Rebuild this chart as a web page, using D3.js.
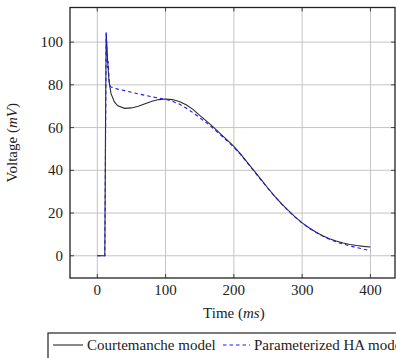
<!DOCTYPE html>
<html>
<head>
<meta charset="utf-8">
<script src="https://cdn.jsdelivr.net/npm/d3@7"></script>
<style>
  html, body { margin: 0; padding: 0; background: #fff; overflow: hidden; }
  svg { display: block; }
  text { font-family: "Liberation Serif", "Times New Roman", serif; fill: #222; }
</style>
</head>
<body>
<svg id="chart" width="396" height="358"></svg>
<script>
// ---- data ----
const courtTime = [0, 10, 11, 12, 13, 14, 15, 17, 20, 25, 30, 40, 50, 60, 70, 80, 90, 100, 110, 120, 130, 140, 150, 160, 170, 180, 190, 200, 210, 220, 230, 240, 250, 260, 270, 280, 290, 300, 310, 320, 330, 340, 350, 360, 370, 380, 390, 400];
const courtemanche = [0, 0, 0, 60, 104, 99, 92, 82, 76, 72, 70.2, 69, 69.2, 70, 71.2, 72.3, 73.1, 73.4, 73.1, 72.2, 70.7, 68.5, 65.7, 63, 60.2, 57.2, 54.2, 51.2, 47.6, 43.6, 39.6, 35.6, 31.6, 27.8, 24.3, 21.1, 18.1, 15.4, 13.1, 11.1, 9.4, 8, 6.9, 6, 5.3, 4.8, 4.4, 4.1];

const haTime = [0, 10, 11, 12, 13, 14, 15, 16, 17, 18, 20, 30, 40, 50, 60, 70, 80, 90, 100, 110, 120, 130, 140, 150, 160, 170, 180, 190, 200, 210, 220, 230, 240, 250, 260, 270, 280, 290, 300, 310, 320, 330, 340, 350, 360, 370, 380, 390, 400];
const parameterizedHA = [0, 0, 0, 50, 105, 95, 88, 91, 84, 80, 79, 78, 77.3, 76.5, 75.8, 75.1, 74.4, 73.8, 73.2, 72.3, 71, 69.2, 67, 64.6, 62.2, 59.6, 56.7, 53.8, 50.8, 47.3, 43.4, 39.4, 35.4, 31.5, 27.7, 24.2, 21, 18, 15.3, 13, 11, 9.2, 7.7, 6.5, 5.5, 4.6, 3.8, 3.1, 2.4];

const xTicks = [0, 100, 200, 300, 400];
const yTicks = [0, 20, 40, 60, 80, 100];
const xLabel = "Time";
const xUnit = "ms";
const yLabel = "Voltage";
const yUnit = "mV";
const seriesNames = ["Courtemanche model", "Parameterized HA model"];

// ---- layout ----
const svg = d3.select("#chart");
const L = 70, R = 395, T = 7.5, B = 278;
const x = d3.scaleLinear().domain([-40, 436]).range([L, R]);
const y = d3.scaleLinear().domain([-10.4, 116.2]).range([B, T]);

// grid
const g = svg.append("g");
g.selectAll("line.gx").data(xTicks).enter().append("line")
  .attr("x1", d => x(d)).attr("x2", d => x(d)).attr("y1", T).attr("y2", B)
  .attr("stroke", "#c4c4c4").attr("stroke-width", 1);
g.selectAll("line.gy").data(yTicks).enter().append("line")
  .attr("y1", d => y(d)).attr("y2", d => y(d)).attr("x1", L).attr("x2", R)
  .attr("stroke", "#c4c4c4").attr("stroke-width", 1);

// inner tick marks on all sides
const tk = 4;
g.selectAll("line.tb").data(xTicks).enter().append("line")
  .attr("x1", d => x(d)).attr("x2", d => x(d)).attr("y1", B).attr("y2", B - tk)
  .attr("stroke", "#444");
g.selectAll("line.tt").data(xTicks).enter().append("line")
  .attr("x1", d => x(d)).attr("x2", d => x(d)).attr("y1", T).attr("y2", T + tk)
  .attr("stroke", "#444");
g.selectAll("line.tl").data(yTicks).enter().append("line")
  .attr("y1", d => y(d)).attr("y2", d => y(d)).attr("x1", L).attr("x2", L + tk)
  .attr("stroke", "#444");
g.selectAll("line.tr").data(yTicks).enter().append("line")
  .attr("y1", d => y(d)).attr("y2", d => y(d)).attr("x1", R).attr("x2", R - tk)
  .attr("stroke", "#444");

// lines
const lineC = d3.line().x((d, i) => x(courtTime[i])).y(d => y(d));
const lineH = d3.line().x((d, i) => x(haTime[i])).y(d => y(d));
const clip = svg.append("clipPath").attr("id", "clip").append("rect")
  .attr("x", L).attr("y", T).attr("width", R - L).attr("height", B - T);
svg.append("path").datum(courtemanche).attr("d", lineC)
  .attr("fill", "none").attr("stroke", "#2b2b2b").attr("stroke-width", 1.1)
  .attr("clip-path", "url(#clip)");
svg.append("path").datum(parameterizedHA).attr("d", lineH)
  .attr("fill", "none").attr("stroke", "#1a1aff").attr("stroke-width", 1.1)
  .attr("stroke-dasharray", "3.5,3").attr("clip-path", "url(#clip)");

// frame
svg.append("rect").attr("x", L).attr("y", T).attr("width", R - L).attr("height", B - T)
  .attr("fill", "none").attr("stroke", "#222").attr("stroke-width", 1.3);

// tick labels
svg.selectAll("text.xt").data(xTicks).enter().append("text")
  .attr("x", d => x(d)).attr("y", 295).attr("text-anchor", "middle")
  .attr("font-size", 15).text(d => d);
svg.selectAll("text.yt").data(yTicks).enter().append("text")
  .attr("x", 63).attr("y", d => y(d) + 5).attr("text-anchor", "end")
  .attr("font-size", 15).text(d => d);

// axis labels
const xl = svg.append("text").attr("x", x(200)).attr("y", 318)
  .attr("text-anchor", "middle").attr("font-size", 15);
xl.append("tspan").text(xLabel + " (");
xl.append("tspan").attr("font-style", "italic").text(xUnit);
xl.append("tspan").text(")");

const yl = svg.append("text").attr("transform", `translate(17,${(T + B) / 2}) rotate(-90)`)
  .attr("text-anchor", "middle").attr("font-size", 15);
yl.append("tspan").text(yLabel + " (");
yl.append("tspan").attr("font-style", "italic").text(yUnit);
yl.append("tspan").text(")");

// legend
const lg = svg.append("g");
lg.append("rect").attr("x", 48).attr("y", 333).attr("width", 500).attr("height", 40)
  .attr("fill", "#fff").attr("stroke", "#222").attr("stroke-width", 1.2);
lg.append("line").attr("x1", 53).attr("x2", 83).attr("y1", 345).attr("y2", 345)
  .attr("stroke", "#2b2b2b").attr("stroke-width", 1.1);
lg.append("text").attr("x", 87).attr("y", 350).attr("font-size", 15).text(seriesNames[0]);
lg.append("line").attr("x1", 223).attr("x2", 250).attr("y1", 345).attr("y2", 345)
  .attr("stroke", "#1a1aff").attr("stroke-width", 1.1).attr("stroke-dasharray", "3.5,3");
lg.append("text").attr("x", 254).attr("y", 350).attr("font-size", 15).text(seriesNames[1]);
</script>
</body>
</html>
